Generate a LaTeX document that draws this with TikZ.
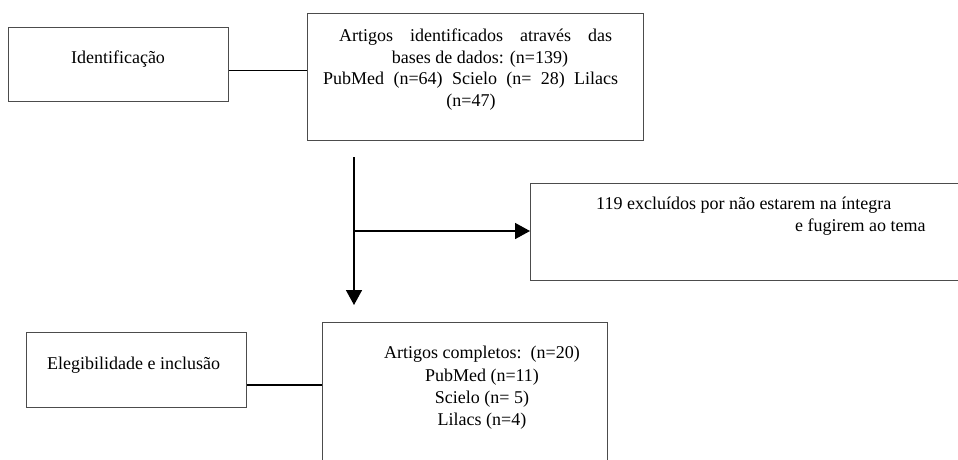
\documentclass[tikz,border=0pt]{standalone}
\usepackage{fontspec}
\setmainfont{Liberation Serif}
\usetikzlibrary{arrows.meta}
\begin{document}
\begin{tikzpicture}[x=1pt,y=-1pt,
  box/.style={draw=black!70, line width=0.9pt, rectangle, inner sep=0pt, anchor=north west},
  txt/.style={font=\fontsize{18}{21}\selectfont, inner sep=0pt, anchor=base},
  txtl/.style={txt, anchor=base west},
  conn/.style={draw=black, line width=1pt},
  arr/.style={draw=black, line width=1.6pt, -{Triangle[length=15pt,width=16pt]}}]
\useasboundingbox (0,0) rectangle (958,459);
\clip (0,0) rectangle (958,459);
% boxes
\node[box, minimum width=220pt, minimum height=74pt] (idbox) at (8,27) {};
\node[box, minimum width=336pt, minimum height=127pt] (topbox) at (307,13) {};
\node[box, minimum width=440pt, minimum height=97pt] (exbox) at (530,183) {};
\node[box, minimum width=220pt, minimum height=75pt] (elbox) at (26,332) {};
\node[box, minimum width=285pt, minimum height=160pt] (fullbox) at (322,322) {};
% texts
\node[txt] (tid) at (118,63) {Identificação};
\node[txtl] (ta1) at (339,41) {\makebox[273pt][s]{Artigos identificados através das}};
\node[txt] (ta2) at (480,63) {bases de dados: (n=139)};
\node[txtl] (ta3) at (323,84) {\makebox[295pt][s]{PubMed (n=64) Scielo (n=\ 28) Lilacs}};
\node[txt] (ta4) at (471,106) {(n=47)};
\node[txtl] (te1) at (596,209) {119 excluídos por não estarem na íntegra};
\node[txtl] (te2) at (795,231) {e fugirem ao tema};
\node[txt] (tel) at (133.5,369) {Elegibilidade e inclusão};
\node[txt] (tf1) at (482,358) {Artigos completos:\ \ (n=20)};
\node[txt] (tf2) at (482,381) {PubMed (n=11)};
\node[txt] (tf3) at (482,403) {Scielo (n=\ 5)};
\node[txt] (tf4) at (482,425) {Lilacs (n=4)};
% connectors
\coordinate (h1) at (0,70);
\draw[conn] (idbox.east |- h1) -- (topbox.west |- h1);
\coordinate (vs) at (354,157);
\coordinate (ve) at (354,305);
\draw[arr] (vs) -- (ve);
\coordinate (hs) at (354,231);
\draw[arr] (hs) -- (exbox.west |- hs);
\coordinate (h2) at (0,385);
\draw[conn, line width=1.8pt] (elbox.east |- h2) -- (fullbox.west |- h2);
\end{tikzpicture}
\end{document}
